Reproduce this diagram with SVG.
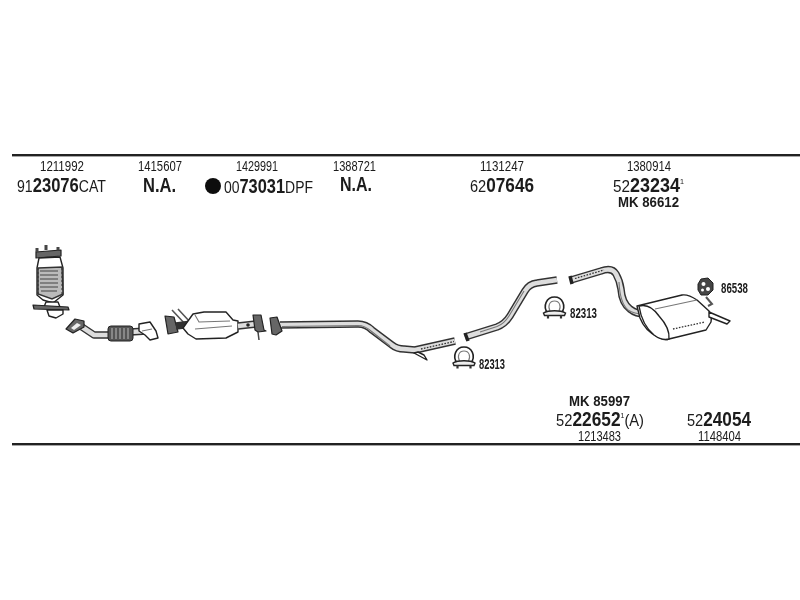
<svg xmlns="http://www.w3.org/2000/svg" width="800" height="600" viewBox="0 0 800 600">
<defs>
<filter id="soft" x="-5%" y="-5%" width="110%" height="110%"><feGaussianBlur stdDeviation="0.55"/></filter>
<filter id="tsoft" x="-5%" y="-5%" width="110%" height="110%"><feGaussianBlur stdDeviation="0.25"/></filter>
<g id="clamp">
<path d="M-7 4 C-12 -3 -8 -12 0 -12 C8 -12 12 -3 7 4" fill="#fff" stroke="#222" stroke-width="1.6"/>
<path d="M-4.500 2 C-7 -3 -5 -8 0 -8 C5 -8 7 -3 4.500 2" fill="none" stroke="#777" stroke-width="1.100"/>
<path d="M-11 4 C-6 1 6 1 11 4 L10 6.500 L-10 6.500 Z" fill="#eee" stroke="#222" stroke-width="1.400"/>
<path d="M-6.500 6V9.500M6.500 6V9.500" stroke="#333" stroke-width="2.200"/>
</g>
</defs>
<style>
text{font-family:"Liberation Sans",Arial,sans-serif;fill:#1a1a1a}
.n{font-size:14px}
.b{font-size:20px;font-weight:bold}
.p{font-size:17px}
.pb{font-size:17px}
.pb tspan{font-size:20px;font-weight:bold}
.pb tspan.u{font-size:8px;font-weight:normal}
.s{font-size:14px;font-weight:bold}
.m{font-size:15px;font-weight:bold}
.o{fill:none;stroke:#333;stroke-width:7.500;stroke-linejoin:round}
.w{fill:none;stroke:#ddd;stroke-width:4.600;stroke-linejoin:round}
.g{fill:none;stroke:#777;stroke-width:1.100;stroke-linejoin:round}
.h{fill:none;stroke:#333;stroke-width:1.300;stroke-dasharray:1.600 1.400}
.k{stroke:#222;stroke-width:1.400;fill:#fff;stroke-linejoin:round}
.d{stroke:#222;stroke-width:1.200;fill:#666;stroke-linejoin:round}
</style>
<rect width="800" height="600" fill="#fff"/>
<g id="rules" fill="#222">
<rect x="12" y="154" width="788" height="2.400"/>
<rect x="12" y="443" width="788" height="2.400"/>
</g>
<g id="connectors" filter="url(#soft)">
<g id="pipe-front">
<path class="o" d="M280 325 L358 324 Q366 324 372 330 L392 345 Q397 349 404 349 L415 350 L455 341"/>
<path class="w" d="M280 325 L358 324 Q366 324 372 330 L392 345 Q397 349 404 349 L415 350 L455 341"/>
<path class="g" d="M282 326.500 L358 325.500 Q365 325.500 371 331 L390 346"/>
<path class="h" d="M421 349 L454 341.500"/>
<path class="k" d="M414 353 L427 360 L424 355 L418 352 Z" fill="#ccc"/>
</g>
<g id="pipe-mid">
<path class="o" d="M465 337 L497 327 Q505 324 510 316 L525 291 Q529 284 537 283 L557 280"/>
<path class="w" d="M465 337 L497 327 Q505 324 510 316 L525 291 Q529 284 537 283 L557 280"/>
<path class="g" d="M480 332 L497 326.500 Q504 324 509 316 L524 291"/>
<path d="M465 333 L468 341" stroke="#222" stroke-width="3.500"/>
</g>
<g id="pipe-rear">
<path class="o" d="M571 280 L601 271 Q612 267 616 274 Q620 281 621 289 Q622 303 630 309 Q636 314 646 314"/>
<path class="w" d="M571 280 L601 271 Q612 267 616 274 Q620 281 621 289 Q622 303 630 309 Q636 314 646 314"/>
<path class="h" d="M575 278.500 L604 270"/>
<path class="g" d="M619 282 Q620 303 628 310 Q634 314 644 314"/>
<path d="M570 276 L572 284" stroke="#222" stroke-width="3.500"/>
</g>
</g>
<g id="cat" filter="url(#soft)">
<path class="d" d="M36 252 L61 250 L61 256 L36 258 Z" fill="#888"/>
<path stroke="#444" stroke-width="3" d="M37 252V248M46 250V245M58 250V247"/>
<path class="k" d="M39 258 L60 257 L63 268 L63 295 L53 303 L43 300 L37 295 L37 268 Z"/>
<path fill="#bbb" stroke="#333" stroke-width="1.400" d="M38 268 L62 267 L63 294 L52 299 L38 294 Z"/>
<path fill="none" stroke="#444" stroke-width="1.100" d="M40 271H58M40 275H58M40 279H58M40 283H58M40 287H58M41 291H57"/>
<path stroke="#333" stroke-width="1" stroke-dasharray="2 2" d="M38 268V294M62 268V294"/>
<path class="k" d="M46 302 L58 302 L60 307 L44 307 Z"/>
<path class="d" d="M33 305 L68 307 L69 310 L34 309 Z" fill="#888"/>
<path class="k" d="M47 310 L63 310 L63 314 L56 318 L49 316 Z" fill="#aaa"/>
</g>
<g id="front-pipe" filter="url(#soft)">
<path class="o" d="M82 327 L94 335 L110 335 M130 332 L147 331"/>
<path class="w" d="M82 327 L94 335 L110 335 M130 332 L147 331"/>
<path class="d" d="M66 329 L75 319 L84 321 L84 327 L73 333 Z"/>
<path d="M71 328 L77 323 L81 325 L74 330 Z" fill="#eee"/>
<rect x="108" y="326" width="25" height="15" rx="3" fill="#555" stroke="#222"/>
<path stroke="#bbb" stroke-width="1" d="M112 328V339M116 328V339M120 328V339M124 328V339M128 328V339"/>
<path class="k" d="M139 324 L150 322 L156 331 L158 338 L150 340 L145 335 L139 331 Z" fill="#ccc"/>
<path class="g" d="M142 331 L152 329"/>
</g>
<g id="dpf" filter="url(#soft)">
<path stroke="#555" stroke-width="1.600" fill="none" d="M172 310 L186 325 M178 309 L190 322"/>
<path class="d" d="M165 316 L174 317 L178 332 L168 334 Z"/>
<path class="o" d="M176 326 L192 324" stroke-width="6"/>
<path class="k" d="M183 328 L193 314 L204 312 L226 312 L233 320 L238 321 L238 332 L232 335 L226 338 L196 339 L188 334 Z" fill="#f4f4f4"/>
<path class="g" d="M195 329 L232 326 M195 315 L199 322 L230 321"/>
<path class="o" d="M238 326 L256 324" stroke-width="6"/>
<path class="w" d="M238 326 L256 324" stroke-width="3"/>
<path class="d" d="M253 315 L261 315 L264 330 L266 331 L258 332 L255 330 Z" fill="#888"/>
<circle cx="248" cy="325" r="1.800" fill="#222"/>
<path stroke="#444" stroke-width="1.500" d="M258 332 L259 340"/>
<path class="d" d="M270 318 L277 317 L282 331 L276 335 L272 334 Z"/>
</g>
<g id="muffler" filter="url(#soft)">
<path class="k" d="M637 306 L682 295 Q688 294 697 300 L709 311 Q712 315 711 322 L706 330 L669 339 Q664 341 658 337 Q645 331 640 318 Z"/>
<path class="k" d="M639 306 Q650 303 659 316 Q670 328 669 339 Q662 341 654 335 Q642 325 639 306 Z"/>
<path class="g" d="M655 309 L697 300"/>
<path class="h" d="M673 329 L705 322"/>
<path class="k" d="M709 312 L730 321 L727 324 L709 317 Z" fill="#ddd"/>
<path fill="none" stroke="#555" stroke-width="2" d="M706 297 L712 304 L708 306"/>
</g>
<g id="rubber-mount" filter="url(#soft)">
<path d="M701 279 L708 278 L713 283 L713 290 L708 295 L701 295 L698 290 L698 284 Z" fill="#444" stroke="#222"/>
<circle cx="703.500" cy="284" r="2" fill="#fff"/>
<circle cx="708" cy="289" r="2" fill="#fff"/>
<circle cx="702.500" cy="290" r="1.500" fill="#fff"/>
</g>
<g id="clamps" filter="url(#soft)">
<use href="#clamp" x="464" y="359"/>
<use href="#clamp" x="554.500" y="309"/>
</g>
<g id="labels-top" filter="url(#tsoft)">
<text class="n" x="40" y="171" textLength="44" lengthAdjust="spacingAndGlyphs">1211992</text>
<text class="pb" x="17" y="192" textLength="89" lengthAdjust="spacingAndGlyphs">91<tspan>23076</tspan>CAT</text>
<text class="n" x="138" y="171" textLength="44" lengthAdjust="spacingAndGlyphs">1415607</text>
<text class="b" x="143" y="192" textLength="33" lengthAdjust="spacingAndGlyphs">N.A.</text>
<text class="n" x="236" y="171" textLength="42" lengthAdjust="spacingAndGlyphs">1429991</text>
<circle cx="213" cy="186" r="8" fill="#111"/>
<text class="pb" x="224" y="193" textLength="89" lengthAdjust="spacingAndGlyphs">00<tspan>73031</tspan>DPF</text>
<text class="n" x="333" y="171" textLength="43" lengthAdjust="spacingAndGlyphs">1388721</text>
<text class="b" x="340" y="191" textLength="32" lengthAdjust="spacingAndGlyphs">N.A.</text>
<text class="n" x="480" y="171" textLength="44" lengthAdjust="spacingAndGlyphs">1131247</text>
<text class="pb" x="470" y="192" textLength="64" lengthAdjust="spacingAndGlyphs">62<tspan>07646</tspan></text>
<text class="n" x="627" y="171" textLength="44" lengthAdjust="spacingAndGlyphs">1380914</text>
<text class="pb" x="613" y="192" textLength="71" lengthAdjust="spacingAndGlyphs">52<tspan>23234</tspan><tspan class="u" dy="-8">1</tspan></text>
<text class="m" x="618" y="207" textLength="61" lengthAdjust="spacingAndGlyphs">MK 86612</text>
</g>
<g id="labels-parts" filter="url(#tsoft)">
<text class="s" x="479" y="369" textLength="26" lengthAdjust="spacingAndGlyphs">82313</text>
<text class="s" x="570" y="318" textLength="27" lengthAdjust="spacingAndGlyphs">82313</text>
<text class="s" x="721" y="293" textLength="27" lengthAdjust="spacingAndGlyphs">86538</text>
</g>
<g id="labels-bottom" filter="url(#tsoft)">
<text class="m" x="569" y="406" textLength="61" lengthAdjust="spacingAndGlyphs">MK 85997</text>
<text class="pb" x="556" y="426" textLength="88" lengthAdjust="spacingAndGlyphs">52<tspan>22652</tspan><tspan class="u" dy="-8">1</tspan><tspan dy="8" style="font-size:17px;font-weight:normal">(A)</tspan></text>
<text class="n" x="578" y="441" textLength="43" lengthAdjust="spacingAndGlyphs">1213483</text>
<text class="pb" x="687" y="426" textLength="64" lengthAdjust="spacingAndGlyphs">52<tspan>24054</tspan></text>
<text class="n" x="698" y="441" textLength="43" lengthAdjust="spacingAndGlyphs">1148404</text>
</g>
</svg>
